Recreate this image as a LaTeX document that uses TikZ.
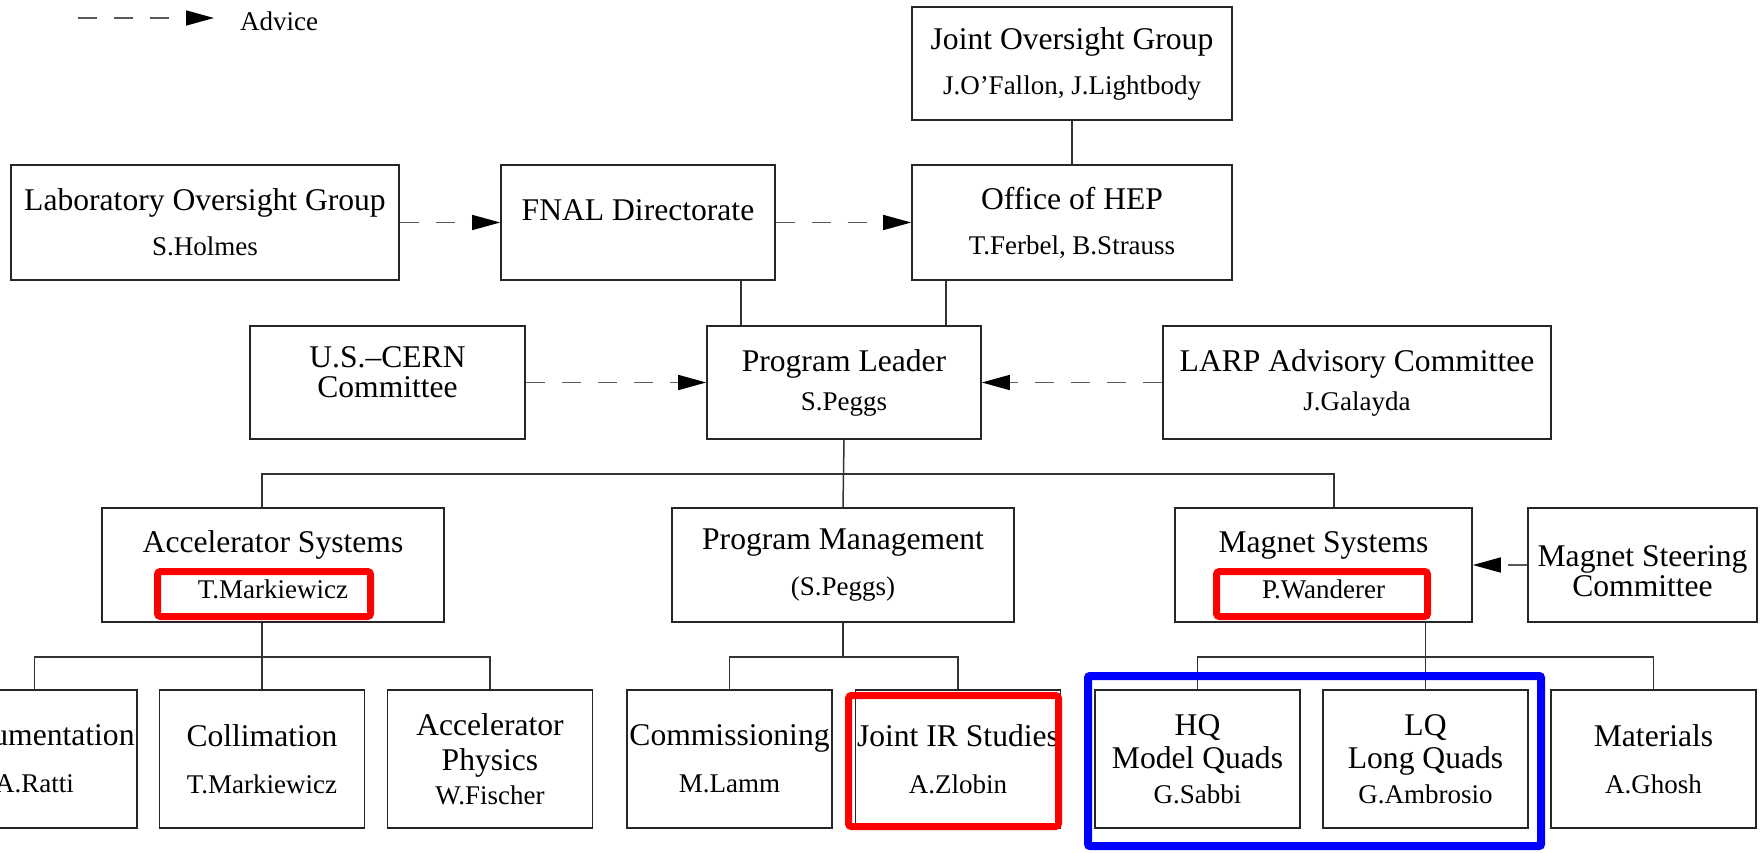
\documentclass[tikz,border=0pt]{standalone}
\usepackage{fontspec}
\setmainfont{Liberation Serif}
\usetikzlibrary{arrows.meta}
\newcommand{\tlfont}{\fontsize{31.6pt}{30pt}\selectfont}
\newcommand{\nmfont}{\fontsize{27pt}{30pt}\selectfont}
\newcommand{\liftby}[2]{\raisebox{#1}[\height][\depth]{\begin{tabular}{@{}c@{}}#2\end{tabular}}}
\begin{document}
\begin{tikzpicture}[x=1pt,y=-1pt,
  box/.style={draw=black!85, line width=1.6pt, rectangle, inner sep=0pt, align=center, font=\tlfont, text=black},
  bigbox/.style={box, minimum height=114pt},
  subbox/.style={box, minimum width=205pt, minimum height=138pt},
  conn/.style={draw=black!80, line width=1.5pt},
  advice/.style={draw=black!65, line width=1.5pt, dash pattern=on 19pt off 17pt, -{Triangle[length=28pt,width=15pt,color=black]}},
  hlred/.style={draw=red, line width=7pt, rounded corners=3pt},
  hlblue/.style={draw=blue, line width=8pt, rounded corners=2pt}
]
\path[use as bounding box, fill=white] (0,0) rectangle (1763,853);
\clip (0,0) rectangle (1763,853);

% legend
\coordinate (lgA) at (78,18);
\coordinate (lgB) at (214,18);
\draw[advice] (lgA) -- (lgB);
\node[font=\nmfont, anchor=west, inner sep=0pt] (lgtext) at (240,21) {Advice};

% top level
\node[box, minimum width=320pt, minimum height=113pt] (jog) at (1072,63.5)
  {Joint Oversight Group\\[15pt]{\nmfont J.O’Fallon, J.Lightbody}};
\node[box, minimum width=388pt, minimum height=115pt] (lab) at (205,222.5)
  {Laboratory Oversight Group\\[15pt]{\nmfont S.Holmes}};
\node[box, minimum width=274pt, minimum height=115pt] (fnal) at (638,222.5)
  {\liftby{8pt}{FNAL Directorate}};
\node[box, minimum width=320pt, minimum height=115pt] (hep) at (1072,222.5)
  {Office of HEP\\[15pt]{\nmfont T.Ferbel, B.Strauss}};

% second level
\node[box, minimum width=275pt, minimum height=113pt] (uscern) at (387.5,382.5)
  {\liftby{6pt}{U.S.--CERN\\Committee}};
\node[box, minimum width=274pt, minimum height=113pt] (pl) at (844,382.5)
  {Program Leader\\[9pt]{\nmfont S.Peggs}};
\node[box, minimum width=388pt, minimum height=113pt] (larp) at (1357,382.5)
  {LARP Advisory Committee\\[9pt]{\nmfont J.Galayda}};

% third level
\node[bigbox, minimum width=342pt] (accsys) at (273,565)
  {Accelerator Systems\\[16pt]{\nmfont T.Markiewicz}};
\node[bigbox, minimum width=342pt] (pm) at (843,565)
  {Program Management\\[16pt]{\nmfont (S.Peggs)}};
\node[bigbox, minimum width=297pt] (magsys) at (1323.5,565)
  {Magnet Systems\\[16pt]{\nmfont P.Wanderer}};
\node[bigbox, minimum width=229pt] (steer) at (1642.5,565)
  {\liftby{-10pt}{Magnet Steering\\Committee}};

% fourth level
\node[subbox] (instr) at (34.5,759) {Instrumentation\\[17pt]{\nmfont A.Ratti}};
\node[subbox] (coll) at (262,759) {Collimation\\[17pt]{\nmfont T.Markiewicz}};
\node[subbox] (aphys) at (490,759) {Accelerator\\[5pt]Physics\\[4pt]{\nmfont W.Fischer}};
\node[subbox] (comm) at (729.5,759) {Commissioning\\[17pt]{\nmfont M.Lamm}};
\node[subbox] (jir) at (958,759) {Joint IR Studies\\[17pt]{\nmfont A.Zlobin}};
\node[subbox] (hq) at (1197.5,759) {HQ\\[3pt]Model Quads\\[5pt]{\nmfont G.Sabbi}};
\node[subbox] (lq) at (1425.5,759) {LQ\\[3pt]Long Quads\\[5pt]{\nmfont G.Ambrosio}};
\node[subbox] (mat) at (1653.5,759) {Materials\\[17pt]{\nmfont A.Ghosh}};

% advice connectors
\draw[advice] (lab.east) -- (fnal.west);
\draw[advice] (fnal.east) -- (hep.west);
\draw[advice] (uscern.east) -- (pl.west);
\draw[advice] (larp.west) -- (pl.east);
\draw[advice] (steer.west) -- (magsys.east);

% solid connectors
\coordinate (xF) at (741,0);
\coordinate (xH) at (946,0);
\draw[conn] (jog.south) -- (hep.north);
\draw[conn] (fnal.south -| xF) -- (pl.north -| xF);
\draw[conn] (hep.south -| xH) -- (pl.north -| xH);
\coordinate (busL) at (262,474);
\coordinate (busR) at (1334,474);
\draw[conn] (accsys.north -| busL) -- (busL) -- (busR) -- (magsys.north -| busR);
\draw[conn] (pl.south) -- (pm.north);
\coordinate (busA) at (0,657);
\draw[conn] (accsys.south -| coll.north) -- (coll.north);
\draw[conn] (instr.north) -- (instr.north |- busA) -- (aphys.north |- busA) -- (aphys.north);
\draw[conn] (pm.south) -- (pm.south |- busA);
\draw[conn] (comm.north) -- (comm.north |- busA) -- (jir.north |- busA) -- (jir.north);
\draw[conn] (magsys.south -| lq.north) -- (lq.north);
\draw[conn] (hq.north) -- (hq.north |- busA) -- (mat.north |- busA) -- (mat.north);

% highlights
\draw[hlred] (157.5,571.5) rectangle (370.5,616.5);
\draw[hlred] (1216.5,571.5) rectangle (1427.5,616.5);
\draw[hlred] (848.5,695.5) rectangle (1058.5,826.5);
\draw[hlblue] (1088,676) rectangle (1541,846);
\end{tikzpicture}
\end{document}
